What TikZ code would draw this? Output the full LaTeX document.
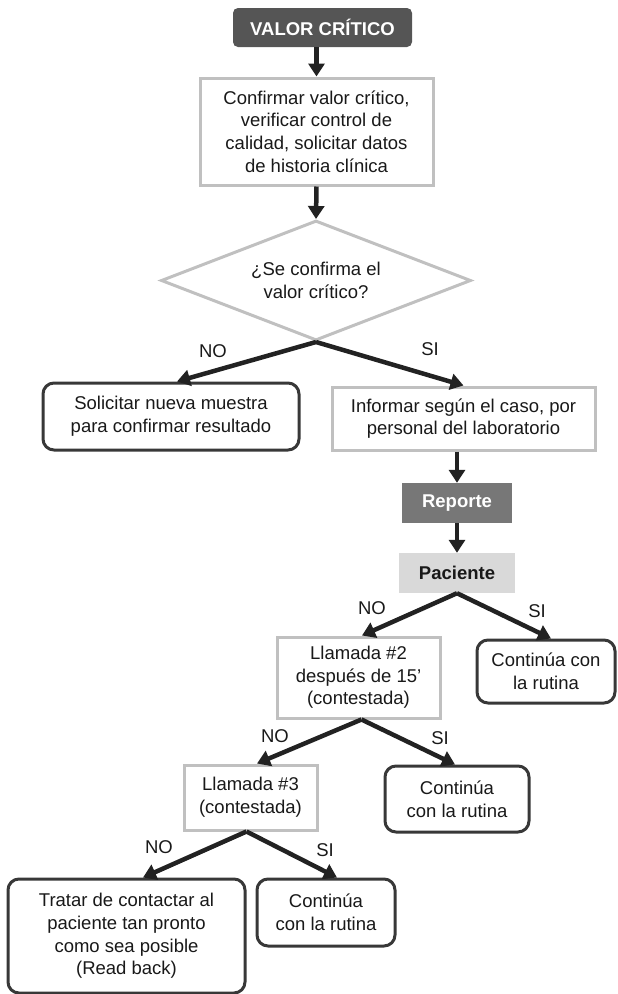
\documentclass[tikz,border=0pt]{standalone}
\usepackage{fontspec}
\setmainfont{Liberation Sans}
\usetikzlibrary{arrows.meta,shapes.geometric}
\definecolor{darkfill}{HTML}{555555}
\definecolor{repfill}{HTML}{777777}
\definecolor{pacfill}{HTML}{D9D9D9}
\definecolor{graybord}{HTML}{C0C0C0}
\definecolor{darkbord}{HTML}{383838}
\definecolor{arrcol}{HTML}{222222}
\begin{document}
\begin{tikzpicture}[x=1pt,y=-1pt,
  every node/.style={font=\fontsize{18.5}{22.7}\selectfont, align=center, inner sep=0pt, text=black!90},
  graybox/.style={draw=graybord, line width=3pt, fill=white, minimum width=#1},
  roundbox/.style={draw=darkbord, line width=3pt, rounded corners=11pt, fill=white, minimum width=#1},
  arr/.style={draw=arrcol, line width=4.5pt, -{Triangle[length=13pt,width=16pt]}},
  lbl/.style={font=\fontsize{18.5}{22}\selectfont}
]
\useasboundingbox (0,0) rectangle (618,994);

\node[fill=darkfill, rounded corners=5pt, minimum width=179pt, minimum height=39pt, text=white, font=\fontsize{18.5}{22}\selectfont\bfseries] (valor) at (322.5,27.5) {VALOR CRÍTICO};
\node[graybox=233pt, minimum height=107pt] (conf) at (316.5,131.5) {Confirmar valor crítico,\\verificar control de\\calidad, solicitar datos\\de historia clínica};
\node[diamond, draw=graybord, line width=3pt, minimum width=310pt, minimum height=120pt, aspect=2.58] (dia) at (316,280.5) {¿Se confirma el\\valor crítico?};

\node[roundbox=256pt, minimum height=67pt] (solic) at (171,416.5) {Solicitar nueva muestra\\para confirmar resultado};
\node[graybox=263pt, minimum height=63pt] (inform) at (463.5,418.5) {Informar según el caso, por\\personal del laboratorio};

\node[fill=repfill, minimum width=110pt, minimum height=40pt, text=white, font=\fontsize{18.5}{22}\selectfont\bfseries] (reporte) at (457,503) {Reporte};
\node[fill=pacfill, minimum width=116pt, minimum height=40pt, font=\fontsize{18.5}{22}\selectfont\bfseries] (paciente) at (457,573) {Paciente};

\node[graybox=163pt, minimum height=81pt] (ll2) at (358.5,677.5) {Llamada \#2\\después de 15’\\(contestada)};
\node[roundbox=138pt, minimum height=63pt] (cont1) at (546,671.5) {Continúa con\\la rutina};

\node[graybox=133pt, minimum height=65pt] (ll3) at (250.5,797.5) {Llamada \#3\\(contestada)};
\node[roundbox=144pt, minimum height=66pt] (cont2) at (457,799) {Continúa\\con la rutina};

\node[roundbox=237pt, minimum height=114pt] (tratar) at (126.5,936) {Tratar de contactar al\\paciente tan pronto\\como sea posible\\(Read back)};
\node[roundbox=138pt, minimum height=67pt] (cont3) at (326,912.5) {Continúa\\con la rutina};

\node[lbl] (no1) at (213,351) {NO};
\node[lbl] (si1) at (430,349) {SI};
\node[lbl] (no2) at (372,608) {NO};
\node[lbl] (si2) at (537,611) {SI};
\node[lbl] (no3) at (275,736) {NO};
\node[lbl] (si3) at (440,738) {SI};
\node[lbl] (no4) at (159,847) {NO};
\node[lbl] (si4) at (325,850) {SI};

\draw[arr] (valor.south -| conf.north) -- (conf.north);
\draw[arr] (conf.south) -- (dia.north);
\draw[arr] (dia.south) -- ([xshift=6pt]solic.north);
\draw[arr] (dia.south) -- (inform.north);
\draw[arr] (inform.south -| reporte.north) -- (reporte.north);
\draw[arr] (reporte.south) -- (paciente.north);
\draw[arr] (paciente.south) -- ([xshift=3.5pt]ll2.north);
\draw[arr] (paciente.south) -- ([xshift=5pt]cont1.north);
\draw[arr] ([xshift=3pt]ll2.south) -- ([xshift=6.5pt]ll3.north);
\draw[arr] ([xshift=3pt]ll2.south) -- ([xshift=-2pt]cont2.north);
\draw[arr] ([xshift=-4pt]ll3.south) -- ([xshift=16.5pt]tratar.north);
\draw[arr] ([xshift=-4pt]ll3.south) -- ([xshift=11pt]cont3.north);
\end{tikzpicture}
\end{document}
